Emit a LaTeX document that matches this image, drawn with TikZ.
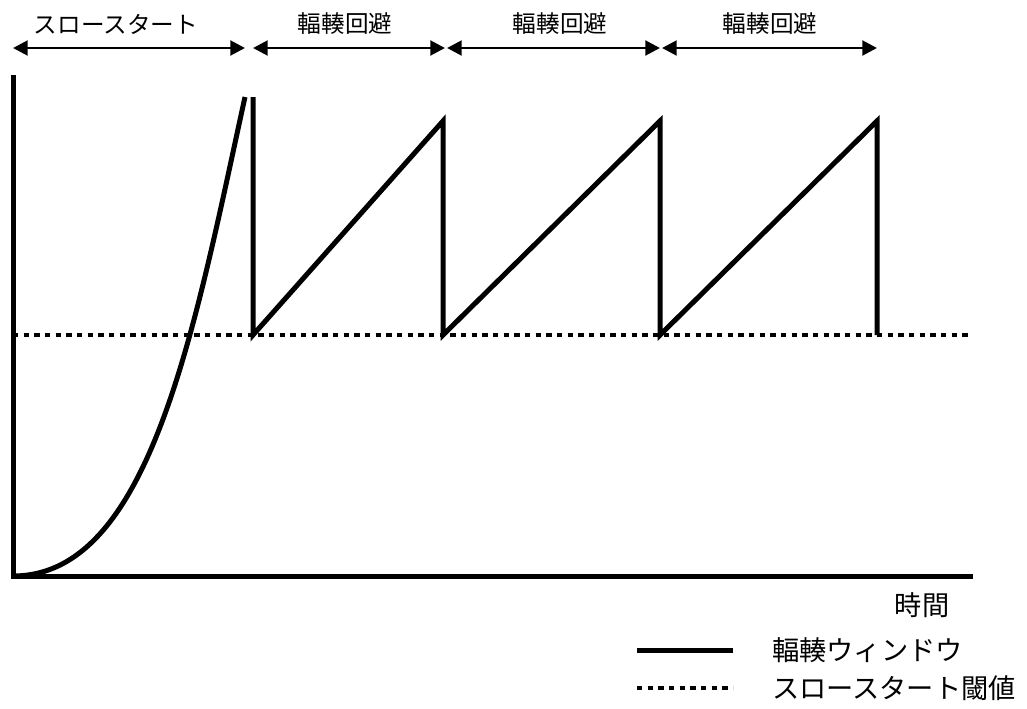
\documentclass[tikz,border=0pt]{standalone}
\usepackage{fontspec}
\setmainfont{Noto Sans CJK JP}
\usetikzlibrary{arrows.meta}
\begin{document}
\begin{tikzpicture}[x=0.75pt,y=-0.75pt,
  thick line/.style={line width=3.75pt},
  dotline/.style={line width=3.2pt,dash pattern=on 3.9pt off 4.1pt},
  span/.style={line width=2.2pt,{Triangle[length=11pt,width=11pt]}-{Triangle[length=11pt,width=11pt]}},
  lbl/.style={font=\fontsize{17.7}{21}\selectfont,inner sep=0pt},
  biglbl/.style={font=\fontsize{20.4}{24}\selectfont,inner sep=0pt}]
\useasboundingbox (0,0) rectangle (1027,708);
% axes
\coordinate (o) at (13,576);
\coordinate (ytop) at (13,75);
\coordinate (xend) at (973,576);
\draw[thick line] (ytop) -- (o) -- (xend);
% threshold
\coordinate (th0) at (13,335);
\coordinate (th1) at (968,335);
\draw[dotline] (th0) -- (th1);
% slow start curve
\coordinate (ss) at (245,97);
\draw[thick line] (o) .. controls (150,576) and (194,330) .. (ss);
% sawtooth
\coordinate (v1t) at (253,97);
\coordinate (v1b) at (253,335);
\coordinate (p2) at (443,121);
\coordinate (b2) at (443,335);
\coordinate (p3) at (660,121);
\coordinate (b3) at (660,335);
\coordinate (p4) at (877,121);
\coordinate (b4) at (877,335);
\draw[thick line,line join=miter] (v1t) -- (v1b) -- (p2) -- (b2) -- (p3) -- (b3) -- (p4) -- (b4);
% phase arrows
\coordinate (a0) at (13,48);
\coordinate (a1) at (245,48);
\coordinate (a2) at (253,48);
\coordinate (a3) at (445,48);
\coordinate (a4) at (447,48);
\coordinate (a5) at (660,48);
\coordinate (a6) at (662,48);
\coordinate (a7) at (877,48);
\draw[span] (a0) -- (a1);
\draw[span] (a2) -- (a3);
\draw[span] (a4) -- (a5);
\draw[span] (a6) -- (a7);
\node[lbl] (l1) at (116,24) {スロースタート};
\node[lbl] (l2) at (345,24) {輻輳回避};
\node[lbl] (l3) at (560,24) {輻輳回避};
\node[lbl] (l4) at (770,24) {輻輳回避};
% axis label
\node[biglbl] (time) at (922,605) {時間};
% legend
\coordinate (g1a) at (637,650);
\coordinate (g1b) at (733,650);
\draw[thick line] (g1a) -- (g1b);
\node[biglbl,anchor=west] (t1) at (772,650) {輻輳ウィンドウ};
\coordinate (g2a) at (637,688);
\coordinate (g2b) at (733,688);
\draw[dotline] (g2a) -- (g2b);
\node[biglbl,anchor=west] (t2) at (772,688) {スロースタート閾値};
\end{tikzpicture}
\end{document}
